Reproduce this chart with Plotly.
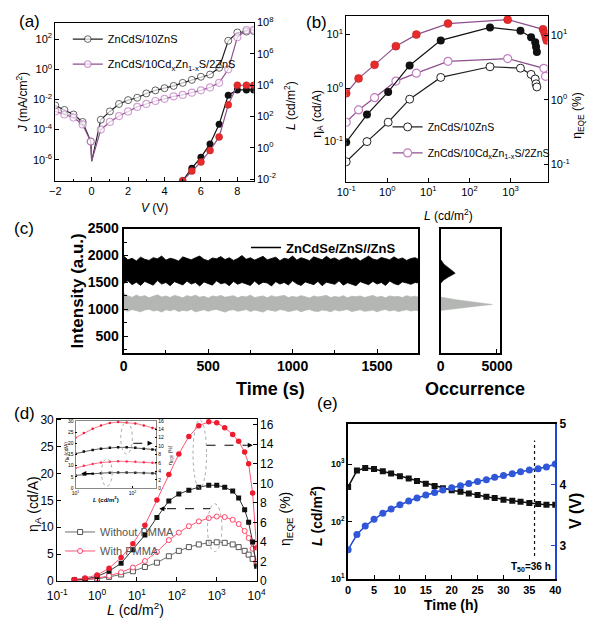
import plotly.graph_objects as go

W, H = 600, 625
FONT = "Liberation Sans, Arial, Helvetica, sans-serif"

def dx(a, b):
    return [a / W, b / W]

def dy(top, bot):
    return [1 - bot / H, 1 - top / H]

# ---------------- (a) J-V-L data ----------------
a_v = [-2, -1.5, -1, -0.5, -0.05, 0, 0.5, 1, 1.5, 2, 2.5, 3, 3.5, 4, 4.5, 5, 5.5, 6, 6.5, 7, 7.5, 8, 8.5, 8.9]
a_j_ref = [4.0e-3, 2.0e-3, 1.0e-3, 3.2e-4, 1.6e-5, 8e-7, 4.5e-4, 1.6e-3, 5.0e-3, 9.0e-3, 1.3e-2, 2.5e-2, 4.0e-2,
           5.6e-2, 7.9e-2, 0.126, 0.2, 0.32, 0.45, 1.26, 79, 280, 320, 350]
a_j_alloy = [1.6e-3, 1.0e-3, 6.3e-4, 2.2e-4, 1.6e-5, 8e-7, 1.0e-4, 3.2e-4, 7.9e-4, 1.6e-3, 3.2e-3, 5.0e-3, 7.9e-3,
             1.1e-2, 1.6e-2, 2.0e-2, 2.8e-2, 4.0e-2, 6.3e-2, 0.126, 1.0, 135, 400, 420]
a_lv = [5.0, 5.5, 6.0, 6.5, 7.0, 7.5, 8.0, 8.5, 8.9]
a_l_ref = [0.008, 0.05, 0.25, 1.8, 32, 2300, 5000, 5000, 5000]
a_l_alloy = [0.008, 0.033, 0.126, 0.68, 5.0, 560, 10000, 10000, 10000]
a_names = ["ZnCdS/10ZnS", "ZnCdS/10Cd<sub>x</sub>Zn<sub>1-x</sub>S/2ZnS"]

# ---------------- (b) efficiency data ----------------
b_l_ref = [0.1, 0.32, 1.05, 3.5, 20, 316, 1740, 3160, 3980, 4170, 4370]
b_eta_ref = [0.042, 0.1, 0.23, 0.62, 1.58, 2.5, 2.35, 1.8, 1.48, 1.2, 1.05]
b_eqe_ref = [0.22, 0.59, 1.32, 3.4, 8.3, 13.2, 11.7, 9.3, 7.8, 6.6, 5.5]
b_l_alloy_a = [0.1, 0.2, 0.49, 1.62, 5.1, 30, 850, 6460, 7080]
b_eta_alloy = [0.23, 0.39, 0.66, 1.35, 1.9, 3.16, 3.55, 2.34, 1.66]
b_l_alloy_e = [0.1, 0.2, 0.49, 1.62, 5.1, 30, 850, 6170, 6760, 7240, 7590]
b_eqe_alloy = [1.26, 2.14, 3.47, 6.76, 10.2, 15.1, 17.4, 12.3, 10.7, 9.3, 8.3]

# ---------------- (c) blinking trace (envelopes) & histogram ----------------
c_t = [0, 25, 50, 75, 100, 125, 150, 175, 200, 225, 250, 275, 300, 325, 350, 375, 400, 425, 450, 475,
       500, 525, 550, 575, 600, 625, 650, 675, 700, 725, 750, 775, 800, 825, 850, 875, 900, 925, 950, 975,
       1000, 1025, 1050, 1075, 1100, 1125, 1150, 1175, 1200, 1225, 1250, 1275, 1300, 1325, 1350, 1375, 1400, 1425, 1450, 1475,
       1500, 1525, 1550, 1575, 1600, 1625, 1650, 1675, 1700, 1725, 1745]
c_on_hi = [1990, 1920, 1950, 1900, 1970, 1930, 1910, 1960, 1940, 1990, 1915, 1950, 1930, 1900, 1975, 1945, 1920, 1960, 1990, 1930,
           1905, 1955, 1940, 1980, 1925, 1960, 1910, 1945, 2000, 1930, 1960, 1915, 1950, 1985, 1920, 1940, 1970, 1905, 1950, 1930,
           1990, 1915, 1960, 1935, 1905, 1975, 1940, 1920, 1985, 1930, 1955, 1910, 1945, 1970, 1925, 1960, 1900, 1950, 1990, 1935,
           1915, 1965, 1940, 1920, 1975, 1930, 1955, 1910, 1945, 1960, 1930]
c_on_lo = [1480, 1530, 1460, 1505, 1445, 1520, 1490, 1450, 1535, 1470, 1500, 1440, 1515, 1480, 1455, 1525, 1470, 1500, 1435, 1510,
           1485, 1450, 1530, 1475, 1495, 1440, 1520, 1465, 1500, 1480, 1445, 1525, 1460, 1505, 1490, 1435, 1515, 1470, 1500, 1455,
           1530, 1475, 1445, 1510, 1490, 1460, 1520, 1440, 1505, 1480, 1465, 1530, 1450, 1495, 1475, 1440, 1515, 1485, 1460, 1520,
           1470, 1500, 1445, 1525, 1480, 1455, 1510, 1490, 1465, 1500, 1490]
c_off_hi = [1300, 1250, 1225, 1265, 1235, 1255, 1215, 1245, 1270, 1230, 1250, 1220, 1260, 1240, 1215, 1255, 1235, 1265, 1225, 1245,
            1210, 1250, 1235, 1260, 1225, 1240, 1255, 1215, 1245, 1230, 1265, 1220, 1240, 1250, 1215, 1255, 1230, 1245, 1260, 1220,
            1240, 1225, 1255, 1235, 1210, 1250, 1230, 1245, 1260, 1220, 1240, 1225, 1255, 1215, 1245, 1235, 1250, 1220, 1240, 1260,
            1225, 1245, 1215, 1250, 1235, 1240, 1220, 1255, 1230, 1245, 1225]
c_off_lo = [990, 965, 1000, 975, 955, 990, 1005, 970, 985, 950, 995, 975, 1000, 960, 985, 970, 1000, 955, 980, 995,
            965, 990, 1000, 970, 950, 985, 995, 965, 980, 1000, 960, 990, 975, 950, 995, 980, 965, 1000, 985, 960,
            975, 995, 955, 985, 1000, 970, 960, 990, 980, 955, 995, 970, 985, 1000, 960, 980, 995, 965, 975, 990,
            955, 985, 1000, 970, 990, 960, 980, 995, 970, 985, 980]
c_hist_on_i = [1480, 1540, 1600, 1640, 1670, 1700, 1760, 1840, 1930]
c_hist_on_n = [0, 250, 700, 1100, 1300, 1150, 750, 300, 0]
c_hist_off_i = [980, 1030, 1060, 1092, 1130, 1180, 1230]
c_hist_off_n = [0, 1800, 3200, 4600, 3100, 1400, 0]
c_name = "ZnCdSe/ZnS//ZnS"

# ---------------- (d) PMMA data ----------------
d_l = [0.27, 0.5, 1.0, 2.0, 4.0, 7.9, 15.8, 31.6, 63, 112, 200, 355, 631, 1000, 1585, 2512, 3548, 5012, 6310, 7943, 10000]
d_eta_wo = [0.1, 0.2, 0.4, 0.75, 1.2, 1.8, 2.6, 3.4, 4.6, 5.6, 6.3, 6.8, 7.1, 7.2, 7.1, 6.8, 6.3, 5.6, 4.9, 4.1, 3.2]
d_eta_w = [0.1, 0.25, 0.5, 0.95, 1.6, 2.5, 3.7, 5.4, 7.6, 9.0, 10.2, 11.1, 11.7, 12.0, 11.9, 11.4, 10.6, 9.3, 8.0, 6.0, 3.6]
d_eqe_wo = [0.1, 0.2, 0.45, 1.0, 1.8, 3.2, 4.7, 6.5, 8.2, 8.9, 9.3, 9.6, 9.8, 9.8, 9.6, 9.2, 8.5, 7.3, 6.0, 4.0, 1.5]
d_eqe_w = [0.15, 0.3, 0.6, 1.3, 2.4, 3.8, 5.7, 8.3, 10.9, 13.0, 14.8, 15.9, 16.3, 16.2, 15.7, 15.0, 14.3, 13.2, 12.0, 9.0, 3.4]
d_names = ["Without PMMA", "With PMMA"]
# inset
di_l = [10, 14, 20, 28, 40, 56, 79, 112, 158, 224, 263]
di_eta_wo = [5.7, 6.1, 6.4, 6.7, 6.9, 7.0, 7.0, 6.9, 6.8, 6.7, 6.6]
di_eta_w = [9.0, 10.0, 10.8, 11.4, 11.8, 12.0, 11.9, 11.8, 11.6, 11.3, 11.2]
di_eqe_wo = [8.2, 8.7, 9.1, 9.4, 9.6, 9.7, 9.7, 9.6, 9.4, 9.2, 9.1]
di_eqe_w = [12.0, 13.1, 14.1, 14.9, 15.5, 15.7, 15.6, 15.4, 14.9, 14.3, 14.1]

# ---------------- (e) lifetime data ----------------
e_t = [0, 1.7, 3.3, 5.0, 6.7, 8.3, 10, 11.7, 13.3, 15, 16.7, 18.3, 20, 21.7, 23.3, 25, 26.7, 28.3, 30, 31.7, 33.3, 35, 36.7, 38.3, 40]
e_lum = [400, 770, 850, 820, 750, 685, 615, 560, 505, 455, 415, 380, 350, 330, 307, 288, 270, 255, 240, 230, 221, 210, 202, 196, 195]
e_volt = [2.93, 3.18, 3.32, 3.43, 3.53, 3.60, 3.67, 3.73, 3.78, 3.83, 3.87, 3.91, 3.95, 3.98, 4.02, 4.05, 4.08, 4.12,
          4.15, 4.18, 4.21, 4.24, 4.26, 4.29, 4.34]
e_t50 = 36
e_t50_span = [25, 2570]

fig = go.Figure()

# ---- (a) ----
a_sizes = [0 if v == 0 else 7 for v in a_v]
fig.add_trace(go.Scatter(x=a_v, y=a_j_ref, mode="lines+markers", name=a_names[0], legend="legend", legendgroup="a1",
                         line=dict(color="#222222", width=1.2),
                         marker=dict(symbol="circle", size=a_sizes, color="white", line=dict(color="#222222", width=1)),
                         xaxis="x", yaxis="y"))
fig.add_trace(go.Scatter(x=a_v, y=a_j_alloy, mode="lines+markers", name=a_names[1], legend="legend", legendgroup="a2",
                         line=dict(color="#8e4f8e", width=1.2),
                         marker=dict(symbol="circle", size=a_sizes, color="white", line=dict(color="#c27cc2", width=1.2)),
                         xaxis="x", yaxis="y"))
fig.add_trace(go.Scatter(x=a_lv, y=a_l_ref, mode="lines+markers", showlegend=False,
                         line=dict(color="#111111", width=1.2),
                         marker=dict(symbol="circle", size=7, color="#111111"), xaxis="x", yaxis="y2"))
fig.add_trace(go.Scatter(x=a_lv, y=a_l_alloy, mode="lines+markers", showlegend=False,
                         line=dict(color="#8e4f8e", width=1.2),
                         marker=dict(symbol="circle", size=7, color="#e82a2a", line=dict(color="#b02020", width=0.5)),
                         xaxis="x", yaxis="y2"))

# ---- (b) ----
fig.add_trace(go.Scatter(x=b_l_ref, y=b_eta_ref, mode="lines+markers", name=a_names[0], legend="legend2", legendgroup="b1",
                         line=dict(color="#222222", width=1.2),
                         marker=dict(symbol="circle", size=8, color="white", line=dict(color="#222222", width=1)),
                         xaxis="x2", yaxis="y3"))
fig.add_trace(go.Scatter(x=b_l_alloy_a, y=b_eta_alloy, mode="lines+markers", name=a_names[1], legend="legend2", legendgroup="b2",
                         line=dict(color="#8e4f8e", width=1.2),
                         marker=dict(symbol="circle", size=8, color="white", line=dict(color="#c27cc2", width=1.2)),
                         xaxis="x2", yaxis="y3"))
fig.add_trace(go.Scatter(x=b_l_ref, y=b_eqe_ref, mode="lines+markers", showlegend=False,
                         line=dict(color="#111111", width=1.2),
                         marker=dict(symbol="circle", size=8, color="#111111"), xaxis="x2", yaxis="y4"))
fig.add_trace(go.Scatter(x=b_l_alloy_e, y=b_eqe_alloy, mode="lines+markers", showlegend=False,
                         line=dict(color="#8e4f8e", width=1.2),
                         marker=dict(symbol="circle", size=8, color="#e82a2a", line=dict(color="#b02020", width=0.5)),
                         xaxis="x2", yaxis="y4"))

# ---- (c) ----
fig.add_trace(go.Scatter(x=c_t + c_t[::-1], y=c_off_hi + c_off_lo[::-1], fill="toself", mode="lines",
                         line=dict(color="#b4b6b4", width=0.8), fillcolor="#b4b6b4", showlegend=False,
                         xaxis="x3", yaxis="y5"))
fig.add_trace(go.Scatter(x=c_t + c_t[::-1], y=c_on_hi + c_on_lo[::-1], fill="toself", mode="lines",
                         line=dict(color="#000000", width=0.8), fillcolor="#000000", showlegend=False,
                         xaxis="x3", yaxis="y5"))
fig.add_trace(go.Scatter(x=[None], y=[None], mode="lines", name=c_name, legend="legend3",
                         line=dict(color="black", width=1.5), xaxis="x3", yaxis="y5"))
fig.add_trace(go.Scatter(x=c_hist_off_n, y=c_hist_off_i, fill="toself", mode="lines",
                         line=dict(color="#b4b6b4", width=0.5), fillcolor="#b4b6b4", showlegend=False,
                         xaxis="x4", yaxis="y6"))
fig.add_trace(go.Scatter(x=c_hist_on_n, y=c_hist_on_i, fill="toself", mode="lines",
                         line=dict(color="#000000", width=0.5), fillcolor="#000000", showlegend=False,
                         xaxis="x4", yaxis="y6"))

# ---- (d) ----
fig.add_trace(go.Scatter(x=d_l, y=d_eta_wo, mode="lines+markers", name=d_names[0], legend="legend4", legendgroup="d1",
                         line=dict(color="#6e6e6e", width=1),
                         marker=dict(symbol="square", size=5, color="white", line=dict(color="#555555", width=1)),
                         xaxis="x5", yaxis="y7"))
fig.add_trace(go.Scatter(x=d_l, y=d_eta_w, mode="lines+markers", name=d_names[1], legend="legend4", legendgroup="d2",
                         line=dict(color="#ff5577", width=1),
                         marker=dict(symbol="circle", size=5, color="white", line=dict(color="#ff4466", width=1)),
                         xaxis="x5", yaxis="y7"))
fig.add_trace(go.Scatter(x=d_l, y=d_eqe_wo, mode="lines+markers", showlegend=False,
                         line=dict(color="#333333", width=1),
                         marker=dict(symbol="square", size=5, color="#111111"), xaxis="x5", yaxis="y8"))
fig.add_trace(go.Scatter(x=d_l, y=d_eqe_w, mode="lines+markers", showlegend=False,
                         line=dict(color="#ff5577", width=1),
                         marker=dict(symbol="circle", size=5.5, color="#ee1c2e"), xaxis="x5", yaxis="y8"))
# inset
fig.add_trace(go.Scatter(x=di_l, y=di_eta_wo, mode="lines+markers", showlegend=False,
                         line=dict(color="#333333", width=0.8), marker=dict(symbol="square", size=2.5, color="#333333"),
                         xaxis="x6", yaxis="y9"))
fig.add_trace(go.Scatter(x=di_l, y=di_eta_w, mode="lines+markers", showlegend=False,
                         line=dict(color="#ff5577", width=0.8), marker=dict(symbol="circle", size=2.5, color="#ff3355"),
                         xaxis="x6", yaxis="y9"))
fig.add_trace(go.Scatter(x=di_l, y=di_eqe_wo, mode="lines+markers", showlegend=False,
                         line=dict(color="#333333", width=0.8), marker=dict(symbol="square", size=2.5, color="#111111"),
                         xaxis="x6", yaxis="y10"))
fig.add_trace(go.Scatter(x=di_l, y=di_eqe_w, mode="lines+markers", showlegend=False,
                         line=dict(color="#ff5577", width=0.8), marker=dict(symbol="circle", size=2.5, color="#ee1c2e"),
                         xaxis="x6", yaxis="y10"))

# ---- (e) ----
fig.add_trace(go.Scatter(x=e_t, y=e_lum, mode="lines+markers", showlegend=False,
                         line=dict(color="#111111", width=1.5),
                         marker=dict(symbol="square", size=6, color="#111111"), xaxis="x7", yaxis="y11"))
fig.add_trace(go.Scatter(x=e_t, y=e_volt, mode="lines+markers", showlegend=False,
                         line=dict(color="#2147d0", width=1.5),
                         marker=dict(symbol="circle", size=7, color="#3057d8"), xaxis="x7", yaxis="y12"))
fig.add_trace(go.Scatter(x=[e_t50, e_t50], y=e_t50_span, mode="lines", showlegend=False,
                         line=dict(color="#111111", width=1.2, dash="dot"), xaxis="x7", yaxis="y11"))

# ---------------- axes ----------------
def ax(**kw):
    base = dict(showline=True, linecolor="black", linewidth=1, mirror=True, ticks="inside", ticklen=4,
                tickcolor="black", showgrid=False, zeroline=False,
                tickfont=dict(family=FONT, size=11, color="black"))
    base.update(kw)
    return base

def sup(p):
    return "10<sup>%d</sup>" % p

lay = dict(width=W, height=H, margin=dict(l=0, r=0, t=0, b=0), autosize=False,
           paper_bgcolor="white", plot_bgcolor="rgba(0,0,0,0)", font=dict(family=FONT, color="black"))

# (a)
lay["xaxis"] = ax(domain=dx(47, 253), anchor="y", range=[-2, 8.9], tickvals=[-2, 0, 2, 4, 6, 8],
                  minor=dict(ticks="inside", ticklen=2, dtick=1))
lay["yaxis"] = ax(domain=dy(15, 177), anchor="x", type="log", range=[-7.4, 3.1],
                  tickvals=[1e-6, 1e-4, 1e-2, 1, 100], ticktext=[sup(p) for p in (-6, -4, -2, 0, 2)], mirror=False)
lay["yaxis2"] = ax(overlaying="y", anchor="x", side="right", type="log", range=[-2.1, 8.0],
                   tickvals=[1e-2, 1, 1e2, 1e4, 1e6, 1e8], ticktext=[sup(p) for p in (-2, 0, 2, 4, 6, 8)], mirror=False)
# (b)
lay["xaxis2"] = ax(domain=dx(349, 558), anchor="y3", type="log", range=[-1, 3.9],
                   tickvals=[0.1, 1, 10, 100, 1000], ticktext=[sup(p) for p in (-1, 0, 1, 2, 3)])
lay["yaxis3"] = ax(domain=dy(8, 178), anchor="x2", type="log", range=[-1.75, 1.35],
                   tickvals=[0.1, 1, 10], ticktext=[sup(p) for p in (-1, 0, 1)], mirror=False)
lay["yaxis4"] = ax(overlaying="y3", anchor="x2", side="right", type="log", range=[-1.27, 1.3],
                   tickvals=[0.1, 1, 10], ticktext=[sup(p) for p in (-1, 0, 1)], mirror=False)
# (c)
boldtick = dict(family=FONT, size=14, color="black", weight=700)
lay["xaxis3"] = ax(domain=dx(118, 424), anchor="y5", range=[0, 1745], tickvals=[0, 500, 1000, 1500],
                   tickfont=boldtick, linewidth=2, minor=dict(ticks="inside", ticklen=3, dtick=250))
lay["yaxis5"] = ax(domain=dy(226, 353), anchor="x3", range=[200, 2500], tickvals=[500, 1000, 1500, 2000, 2500],
                   tickfont=boldtick, linewidth=2, minor=dict(ticks="inside", ticklen=3, dtick=250))
lay["xaxis4"] = ax(domain=dx(447, 509), anchor="y6", range=[0, 5300], tickvals=[0, 5000],
                   tickfont=boldtick, linewidth=2)
lay["yaxis6"] = ax(domain=dy(226, 353), anchor="x4", range=[200, 2500], showticklabels=False, ticks="", linewidth=2)
# (d)
lay["xaxis5"] = ax(domain=dx(49, 256), anchor="y7", type="log", range=[-1, 4],
                   tickvals=[0.1, 1, 10, 100, 1000, 10000], ticktext=[sup(p) for p in (-1, 0, 1, 2, 3, 4)],
                   tickfont=dict(family=FONT, size=12, color="black"), ticklabelstandoff=4)
lay["yaxis7"] = ax(domain=dy(421, 587), anchor="x5", range=[0, 30.2], tickvals=[0, 5, 10, 15, 20, 25, 30],
                   tickfont=dict(family=FONT, size=12, color="black"), mirror=False)
lay["yaxis8"] = ax(overlaying="y7", anchor="x5", side="right", range=[0, 16.6], tickvals=[0, 2, 4, 6, 8, 10, 12, 14, 16],
                   tickfont=dict(family=FONT, size=12, color="black"), mirror=False)
tiny = dict(family=FONT, size=5, color="black")
lay["xaxis6"] = ax(domain=dx(68, 152), anchor="y9", type="log", range=[1, 2.42], tickvals=[10, 100],
                   ticktext=[sup(1), sup(2)], tickfont=tiny, ticklen=2, linecolor="#888888", linewidth=0.8)
lay["yaxis9"] = ax(domain=dy(423, 492), anchor="x6", range=[0, 30], tickvals=[0, 5, 10, 15, 20, 25, 30],
                   tickfont=tiny, ticklen=2, mirror=False, linecolor="#888888", linewidth=0.8)
lay["yaxis10"] = ax(overlaying="y9", anchor="x6", side="right", range=[0, 16], tickvals=[0, 2, 4, 6, 8, 10, 12, 14, 16],
                    tickfont=tiny, ticklen=2, mirror=False, linecolor="#888888", linewidth=0.8)
# (e)
lay["xaxis7"] = ax(domain=dx(351, 566), anchor="y11", range=[0, 40], tickvals=[0, 5, 10, 15, 20, 25, 30, 35, 40],
                   tickfont=dict(family=FONT, size=11, color="black", weight=700), linewidth=1.5)
lay["yaxis11"] = ax(domain=dy(426, 585), anchor="x7", type="log", range=[1, 3.7], tickvals=[10, 100, 1000],
                    ticktext=[sup(1), sup(2), sup(3)], tickfont=dict(family=FONT, size=9, color="black", weight=700),
                    mirror=False, linewidth=1.5)
lay["yaxis12"] = ax(overlaying="y11", anchor="x7", side="right", range=[2.45, 5], tickvals=[3, 4, 5],
                    tickfont=dict(family=FONT, size=12, color="black", weight=700), mirror=False,
                    linecolor="#2147d0", tickcolor="#2147d0", linewidth=1.5)

# legends
lay["legend"] = dict(x=60 / W, y=1 - 17 / H, xanchor="left", yanchor="top", bgcolor="rgba(0,0,0,0)",
                     font=dict(family=FONT, size=11, color="black"), itemwidth=30, tracegroupgap=6, traceorder="grouped")
lay["legend2"] = dict(x=392 / W, y=1 - 107 / H, xanchor="left", yanchor="top", bgcolor="rgba(0,0,0,0)",
                      font=dict(family=FONT, size=10.5, color="black"), itemwidth=30, tracegroupgap=7, traceorder="grouped")
lay["legend3"] = dict(x=245 / W, y=1 - 230 / H, xanchor="left", yanchor="top", bgcolor="rgba(0,0,0,0)",
                      font=dict(family=FONT, size=13, color="black", weight=700), itemwidth=30)
lay["legend4"] = dict(x=52 / W, y=1 - 522 / H, xanchor="left", yanchor="top", bgcolor="rgba(0,0,0,0)",
                      font=dict(family=FONT, size=11, color="#555555"), itemwidth=30, tracegroupgap=0, traceorder="grouped")

# annotations (titles / labels)
def ann(text, x, y, size, angle=0, bold=False, color="black"):
    return dict(text=text, x=x / W, y=1 - y / H, xref="paper", yref="paper", showarrow=False,
                font=dict(family=FONT, size=size, color=color, weight=700 if bold else 400),
                textangle=angle, xanchor="center", yanchor="middle")

anns = [
    ann("(a)", 20, 14, 17),
    ann("<i>J</i> (mA/cm<sup>2</sup>)", 12, 97, 12, -90),
    ann("<i>L</i> (cd/m<sup>2</sup>)", 290, 100, 12, -90),
    ann("<i>V</i> (V)", 150, 205, 12),
    ann("(b)", 318, 15, 17),
    ann("η<sub>A</sub> (cd/A)", 320, 108, 12, -90),
    ann("η<sub>EQE</sub> (%)", 590, 110, 12, -90),
    ann("<i>L</i> (cd/m<sup>2</sup>)", 455, 212, 12),
    ann("(c)", 15, 226, 17),
    ann("Intensity (a.u.)", 70, 290, 17, -90, bold=True),
    ann("Time (s)", 270, 390, 18, bold=True),
    ann("Occurrence", 483, 390, 18, bold=True),
    ann("(d)", 15, 415, 17),
    ann("η<sub>A</sub> (cd/A)", 25, 508, 14, -90),
    ann("η<sub>EQE</sub> (%)", 287, 523, 14, -90),
    ann("<i>L</i> (cd/m<sup>2</sup>)", 130, 616, 14),
    ann("η<sub>A</sub> (cd/A)", 58, 455, 5, -90),
    ann("η<sub>EQE</sub> (%)", 166, 458, 5, -90),
    ann("<b><i>L</i> (cd/m<sup>2</sup>)</b>", 100, 503, 6),
    ann("(e)", 330, 405, 17),
    ann("<b><i>L</i> (cd/m<sup>2</sup>)</b>", 317, 520, 14, -90),
    ann("<b>V (V)</b>", 587, 515, 16, -90),
    ann("<b>Time (h)</b>", 458, 612, 14),
]
anns.append(dict(text="T<sub>50</sub>=%d h" % e_t50, x=e_t50 - 0.6, y=1.2, xref="x7", yref="y11", showarrow=False,
                 font=dict(family=FONT, size=10, color="black", weight=700), xanchor="center", yanchor="middle"))

def arrow(hx, hy, tail_dx):
    return dict(x=hx / W, y=1 - hy / H, xref="paper", yref="paper", ax=tail_dx, ay=0, text="", showarrow=True,
                arrowhead=2, arrowsize=1, arrowwidth=1, arrowcolor="black")

anns += [arrow(252, 448, -8), arrow(155, 513, 8), arrow(148, 446, -6), arrow(74, 477, 6)]
lay["annotations"] = anns

def ellipse(x0, y0, x1, y1):
    return dict(type="circle", xref="paper", yref="paper", x0=x0 / W, x1=x1 / W, y0=1 - y0 / H, y1=1 - y1 / H,
                line=dict(color="#a8a8a8", width=1, dash="dot"))

def dline(x0, x1, y):
    return dict(type="line", xref="paper", yref="paper", x0=x0 / W, x1=x1 / W, y0=1 - y / H, y1=1 - y / H,
                line=dict(color="black", width=1, dash="dash"))

lay["shapes"] = [ellipse(190, 422, 204, 492), ellipse(205, 508, 220, 557),
                 ellipse(115, 424, 127, 457), ellipse(95, 462, 106, 490),
                 dline(204, 245, 448), dline(163, 208, 513), dline(128, 143, 446), dline(78, 96, 477)]

fig.update_layout(**lay)
fig.write_html("out.html")
